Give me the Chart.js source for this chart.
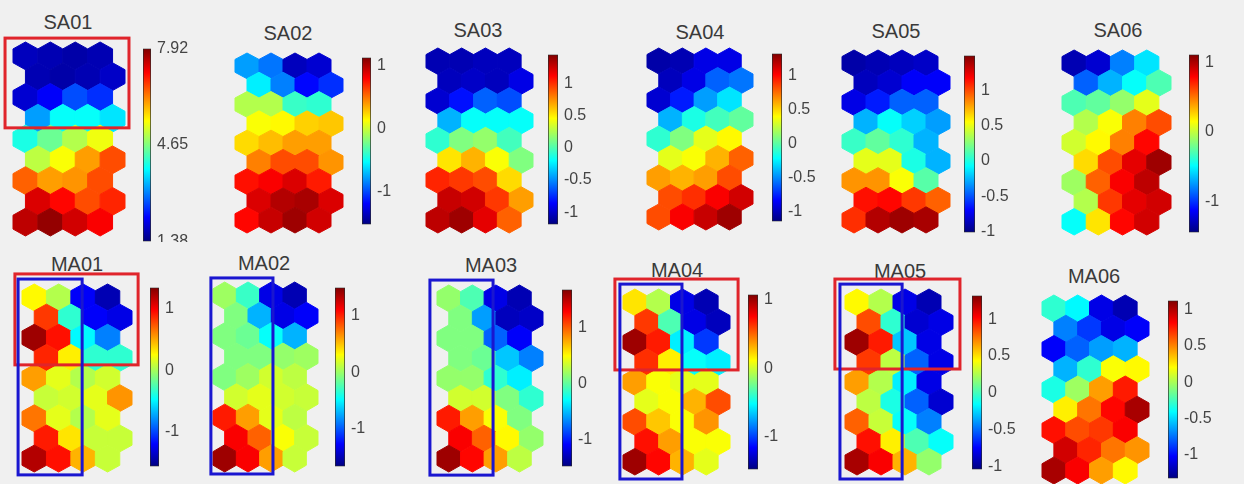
<!DOCTYPE html>
<html>
<head>
<meta charset="utf-8">
<script src="https://cdn.jsdelivr.net/npm/chart.js@4.4.1/dist/chart.umd.min.js"></script>
<style>
  body { margin: 0; background: #f0f0f0; width: 1244px; height: 484px; overflow: hidden; position: relative;
         font-family: Arial, "Liberation Sans", sans-serif; }
  .row { position: absolute; left: 0; width: 1244px; overflow: hidden; }
  .ttl { position: absolute; font-size: 20px; color: #3a3a3a; transform: translateX(-50%); white-space: nowrap; line-height: 20px; }
  canvas { position: absolute; }
</style>
</head>
<body>
<div class="row" id="rowTop" style="top:0;height:242px"></div>
<div class="row" id="rowBottom" style="top:243px;height:241px"></div>
<script>
// component planes: 9 rows x 4 columns, read top row first
// values are colour levels, 0 = bottom of the colorbar, 1 = top
const mapNames = ['SA01', 'SA02', 'SA03', 'SA04', 'SA05', 'SA06', 'MA01', 'MA02', 'MA03', 'MA04', 'MA05', 'MA06'];

const sa01 = [0.06, 0.05, 0.04, 0.05,  0.05, 0.04, 0.05, 0.07,  0.08, 0.12, 0.20, 0.17,
              0.28, 0.38, 0.38, 0.35,  0.40, 0.48, 0.55, 0.61,  0.56, 0.62, 0.72, 0.80,
              0.78, 0.72, 0.73, 0.80,  0.91, 0.87, 0.80, 0.84,  0.94, 0.98, 0.92, 0.88];
const sa02 = [0.28, 0.24, 0.06, 0.08,  0.36, 0.25, 0.13, 0.17,  0.55, 0.55, 0.43, 0.42,
              0.62, 0.63, 0.67, 0.68,  0.66, 0.69, 0.72, 0.72,  0.75, 0.80, 0.80, 0.73,
              0.86, 0.88, 0.91, 0.85,  0.91, 0.95, 0.96, 0.91,  0.87, 0.93, 0.97, 0.92];
const sa03 = [0.05, 0.05, 0.06, 0.06,  0.06, 0.07, 0.06, 0.10,  0.08, 0.14, 0.22, 0.20,
              0.30, 0.38, 0.38, 0.38,  0.42, 0.50, 0.52, 0.44,  0.65, 0.70, 0.62, 0.50,
              0.84, 0.82, 0.80, 0.66,  0.93, 0.92, 0.82, 0.72,  0.94, 0.97, 0.90, 0.78];
const sa04 = [0.04, 0.05, 0.10, 0.10,  0.06, 0.10, 0.22, 0.24,  0.08, 0.15, 0.28, 0.35,
              0.30, 0.40, 0.44, 0.47,  0.42, 0.50, 0.60, 0.63,  0.60, 0.62, 0.70, 0.78,
              0.72, 0.70, 0.72, 0.80,  0.80, 0.83, 0.88, 0.92,  0.80, 0.88, 0.93, 0.97];
const sa05 = [0.04, 0.05, 0.06, 0.07,  0.06, 0.08, 0.12, 0.12,  0.10, 0.15, 0.22, 0.22,
              0.30, 0.38, 0.33, 0.28,  0.43, 0.47, 0.42, 0.30,  0.60, 0.60, 0.40, 0.30,
              0.73, 0.73, 0.62, 0.46,  0.86, 0.87, 0.82, 0.78,  0.83, 0.95, 0.97, 0.96];
const sa06 = [0.05, 0.08, 0.25, 0.35,  0.22, 0.30, 0.38, 0.45,  0.45, 0.47, 0.52, 0.60,
              0.55, 0.62, 0.75, 0.80,  0.58, 0.63, 0.75, 0.87,  0.66, 0.80, 0.90, 0.97,
              0.53, 0.78, 0.88, 0.94,  0.55, 0.82, 0.90, 0.92,  0.38, 0.65, 0.87, 0.92];
const ma01 = [0.63, 0.55, 0.12, 0.05,  0.82, 0.42, 0.12, 0.10,  0.97, 0.86, 0.37, 0.25,
              0.84, 0.64, 0.42, 0.42,  0.72, 0.60, 0.55, 0.58,  0.57, 0.58, 0.60, 0.73,
              0.76, 0.60, 0.55, 0.60,  0.85, 0.65, 0.57, 0.57,  0.95, 0.86, 0.70, 0.57];
const ma02 = [0.53, 0.43, 0.10, 0.05,  0.50, 0.30, 0.10, 0.12,  0.50, 0.48, 0.38, 0.30,
              0.50, 0.50, 0.52, 0.53,  0.50, 0.53, 0.58, 0.56,  0.58, 0.60, 0.58, 0.57,
              0.85, 0.72, 0.60, 0.56,  0.88, 0.78, 0.62, 0.57,  0.97, 0.88, 0.72, 0.57];
const ma03 = [0.52, 0.45, 0.10, 0.05,  0.50, 0.28, 0.06, 0.07,  0.50, 0.50, 0.22, 0.12,
              0.50, 0.48, 0.32, 0.25,  0.52, 0.52, 0.42, 0.36,  0.58, 0.58, 0.50, 0.42,
              0.85, 0.72, 0.62, 0.50,  0.88, 0.78, 0.63, 0.52,  0.97, 0.87, 0.72, 0.56];
const ma04 = [0.65, 0.55, 0.10, 0.05,  0.82, 0.45, 0.10, 0.06,  0.97, 0.85, 0.36, 0.18,
              0.83, 0.64, 0.38, 0.36,  0.72, 0.62, 0.60, 0.60,  0.60, 0.62, 0.70, 0.80,
              0.80, 0.68, 0.62, 0.73,  0.86, 0.72, 0.62, 0.62,  0.97, 0.87, 0.70, 0.60];
const ma05 = [0.63, 0.55, 0.10, 0.05,  0.80, 0.42, 0.08, 0.10,  0.97, 0.85, 0.32, 0.10,
              0.82, 0.56, 0.22, 0.10,  0.72, 0.55, 0.36, 0.10,  0.56, 0.40, 0.22, 0.08,
              0.78, 0.57, 0.38, 0.25,  0.86, 0.64, 0.45, 0.38,  0.96, 0.88, 0.70, 0.52];
const ma06 = [0.42, 0.37, 0.10, 0.05,  0.25, 0.18, 0.10, 0.12,  0.12, 0.22, 0.28, 0.30,
              0.30, 0.42, 0.62, 0.63,  0.40, 0.53, 0.72, 0.85,  0.64, 0.76, 0.87, 0.96,
              0.86, 0.80, 0.82, 0.88,  0.92, 0.84, 0.76, 0.73,  0.96, 0.88, 0.72, 0.63];
const planes = [sa01, sa02, sa03, sa04, sa05, sa06, ma01, ma02, ma03, ma04, ma05, ma06];

// colorbar ranges and tick labels
const cbarMin = [1.38, -1.52, -1.19, -1.14, -1.01, -1.45, -1.57, -1.67, -1.47, -1.48, -1.04, -1.32];
const cbarMax = [7.92, 1.12, 1.45, 1.33, 1.49, 1.12, 1.35, 1.5, 1.67, 1.08, 1.32, 1.12];
const halfTicks = [-1, -0.5, 0, 0.5, 1];
const unitTicks = [-1, 0, 1];
const cbarTicks = [[1.38, 4.65, 7.92], unitTicks, halfTicks, halfTicks, halfTicks, unitTicks,
                   unitTicks, unitTicks, unitTicks, unitTicks, halfTicks, halfTicks];

// highlight boxes in grid units: [colour, x0, x1, y0, y1]
const RED = '#e0242b', BLUE = '#1a16d0';
const boxes = [
  [[RED, -0.82, 4.16, -0.74, 3.0]], [], [], [], [], [],
  [[RED, -0.79, 4.25, -1.01, 2.9], [BLUE, -0.66, 1.96, -0.79, 7.63]],
  [[BLUE, -0.59, 2.07, -0.75, 7.59]],
  [[BLUE, -0.8, 1.88, -0.79, 7.64]],
  [[RED, -0.84, 4.34, -1.01, 2.94], [BLUE, -0.63, 1.98, -0.79, 7.68]],
  [[RED, -0.92, 4.29, -1.01, 2.9], [BLUE, -0.71, 1.88, -0.79, 7.68]],
  []
];

// page layout (pixels)
const gridBox = [[13, 42, 125, 236], [235, 53, 343, 233], [426, 48, 533, 233], [647, 48, 753, 230],
                 [842, 50, 950, 233], [1062, 50, 1171, 235], [22, 284, 132, 472], [213, 282, 318, 472],
                 [437, 285, 543, 472], [623, 289, 730, 475], [845, 289, 953, 475], [1042, 295, 1149, 484]];
const cbarBox = [[143, 43, 8, 204], [362, 52, 9, 178], [548, 49, 10, 181], [772, 48, 10, 179],
                 [964, 50, 11, 188], [1189, 49, 10, 189], [150, 282, 9, 190], [335, 282, 10, 190],
                 [562, 284, 10, 188], [748, 289, 10, 186], [972, 290, 10, 185], [1168, 295, 10, 189]];
const titlePos = [[68, 22], [288, 33], [478, 30], [700, 32], [896, 31], [1118, 30],
                  [77, 264], [264, 263], [491, 265], [677, 270], [900, 271], [1094, 276]];

const ROWS = 9, COLS = 4;
const HEX_R = 1 / Math.sqrt(3);
const ROW_H = 1.5 * HEX_R;
const PAD = 14;

Chart.defaults.font.family = 'Arial, "Liberation Sans", sans-serif';

function jet(t) {
  const c = v => Math.round(255 * Math.max(0, Math.min(1, v)));
  return `rgb(${c(1.5 - Math.abs(4 * t - 3))},${c(1.5 - Math.abs(4 * t - 2))},${c(1.5 - Math.abs(4 * t - 1))})`;
}

const hexPlugin = {
  id: 'hexes',
  afterDatasetsDraw(chart, args, opts) {
    const { ctx, scales: { x, y } } = chart;
    const hw = Math.abs(x.getPixelForValue(0.5) - x.getPixelForValue(0));
    const hr = Math.abs(y.getPixelForValue(HEX_R) - y.getPixelForValue(0));
    const raw = chart.data.datasets[0].data;
    ctx.save();
    chart.getDatasetMeta(0).data.forEach((pt, i) => {
      const col = jet(raw[i].v);
      ctx.beginPath();
      ctx.moveTo(pt.x, pt.y - hr);
      ctx.lineTo(pt.x + hw, pt.y - hr / 2);
      ctx.lineTo(pt.x + hw, pt.y + hr / 2);
      ctx.lineTo(pt.x, pt.y + hr);
      ctx.lineTo(pt.x - hw, pt.y + hr / 2);
      ctx.lineTo(pt.x - hw, pt.y - hr / 2);
      ctx.closePath();
      ctx.fillStyle = col;
      ctx.fill();
      ctx.strokeStyle = col;
      ctx.lineWidth = 1;
      ctx.stroke();
    });
    // highlight rectangles
    ctx.lineWidth = 3;
    (opts.boxes || []).forEach(b => {
      const x0 = x.getPixelForValue(b[1]), x1 = x.getPixelForValue(b[2]);
      const y0 = y.getPixelForValue(b[3]), y1 = y.getPixelForValue(b[4]);
      ctx.strokeStyle = b[0];
      ctx.strokeRect(x0, y0, x1 - x0, y1 - y0);
    });
    ctx.restore();
  }
};

function makeCanvas(parent, left, top, w, h) {
  const cv = document.createElement('canvas');
  cv.width = w; cv.height = h;
  cv.style.left = left + 'px'; cv.style.top = top + 'px';
  cv.style.width = w + 'px'; cv.style.height = h + 'px';
  parent.appendChild(cv);
  return cv;
}

mapNames.forEach((name, m) => {
  const parent = document.getElementById(m < 6 ? 'rowTop' : 'rowBottom');
  const off = m < 6 ? 0 : 243;

  // title
  const t = document.createElement('div');
  t.className = 'ttl';
  t.textContent = name;
  t.style.left = titlePos[m][0] + 'px';
  t.style.top = (titlePos[m][1] - off - 10) + 'px';
  parent.appendChild(t);

  // hexagon grid
  const [L, T, R, B] = gridBox[m];
  const pts = planes[m].map((v, i) => {
    const row = Math.floor(i / COLS), col = i % COLS;
    return { x: col + 0.5 * (row % 2), y: row * ROW_H, v: v };
  });
  const hexCv = makeCanvas(parent, L - PAD, T - PAD - off, R - L + 2 * PAD, B - T + 2 * PAD);
  new Chart(hexCv, {
    type: 'scatter',
    data: { datasets: [{ data: pts, pointRadius: 0 }] },
    options: {
      responsive: false,
      animation: false,
      events: [],
      layout: { padding: PAD },
      plugins: { legend: { display: false }, tooltip: { enabled: false }, hexes: { boxes: boxes[m] } },
      scales: {
        x: { type: 'linear', display: false, min: -0.5, max: COLS },
        y: { type: 'linear', display: false, reverse: true, min: -HEX_R, max: (ROWS - 1) * ROW_H + HEX_R }
      }
    },
    plugins: [hexPlugin]
  });

  // colorbar
  const [cl, ct, cw, ch] = cbarBox[m];
  const AXW = 50, CP = 10;
  const cbCv = makeCanvas(parent, cl, ct - CP - off, cw + AXW, ch + 2 * CP);
  new Chart(cbCv, {
    type: 'bar',
    data: {
      labels: [''],
      datasets: [{
        data: [[cbarMin[m], cbarMax[m]]],
        backgroundColor: c => {
          const area = c.chart.chartArea;
          if (!area) return '#888';
          const g = c.chart.ctx.createLinearGradient(0, area.bottom, 0, area.top);
          for (let s = 0; s <= 16; s++) g.addColorStop(s / 16, jet(s / 16));
          return g;
        },
        borderColor: '#2a2a2a',
        borderWidth: 1,
        borderSkipped: false,
        categoryPercentage: 1,
        barPercentage: 1
      }]
    },
    options: {
      responsive: false,
      animation: false,
      events: [],
      layout: { padding: { top: CP, bottom: CP, left: 0, right: 0 } },
      plugins: { legend: { display: false }, tooltip: { enabled: false } },
      scales: {
        x: { display: false },
        y: {
          position: 'right',
          min: cbarMin[m],
          max: cbarMax[m],
          grid: { display: false, drawTicks: false },
          border: { display: false },
          afterBuildTicks: s => { s.ticks = cbarTicks[m].map(v => ({ value: v })); },
          afterFit: s => { s.width = AXW; },
          ticks: { padding: 6, color: '#444', font: { size: 16 }, autoSkip: false, callback: v => String(v) }
        }
      }
    }
  });
});
</script>
</body>
</html>
